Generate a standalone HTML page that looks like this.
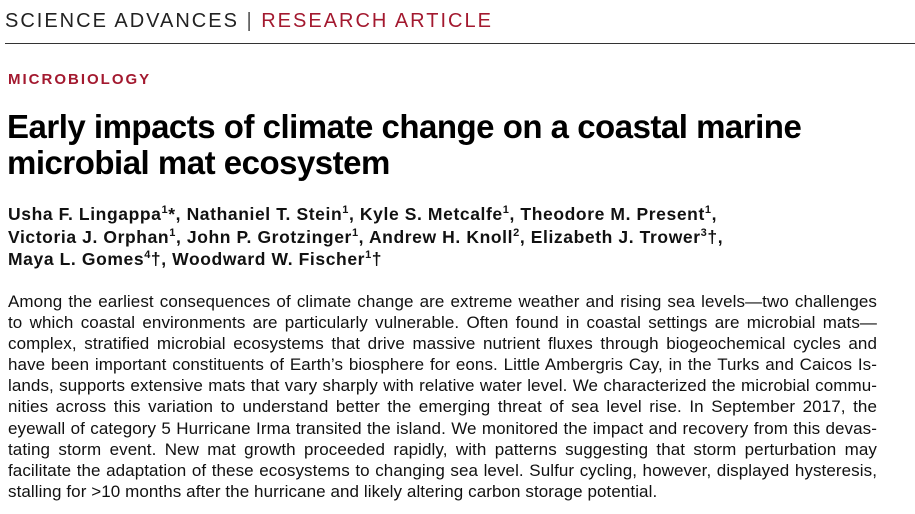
<!DOCTYPE html>
<html><head><meta charset="utf-8"><style>
body{margin:0;width:915px;height:514px;background:#fff;overflow:hidden;font-family:"Liberation Sans",sans-serif;color:#111;position:relative}
.a{position:absolute;white-space:nowrap}
.hd{top:10px;left:5px;font-size:20px;letter-spacing:2px;color:#222}
.red{color:#a3192f}
.rule{position:absolute;top:43px;left:5px;width:910px;height:1px;background:#333}
.cat{top:71px;left:8px;font-size:15px;font-weight:bold;letter-spacing:2px;color:#a3192f}
.ti{left:7px;font-size:33px;font-weight:bold;letter-spacing:-0.5px;color:#000}
.au{left:8px;font-size:17.5px;font-weight:bold;letter-spacing:0.6px;color:#111}
.au sup{font-size:11px;vertical-align:7px;line-height:0}
.ab{position:absolute;left:8px;width:869px;font-size:17px;letter-spacing:0.08px;line-height:21.1px;top:291px}
.ab div{text-align:justify;text-align-last:justify;white-space:nowrap;overflow:visible}
.ab div.l{text-align-last:left}
</style></head><body>
<div class="a hd">SCIENCE ADVANCES <span style="color:#555">|</span> <span class="red">RESEARCH ARTICLE</span></div>
<div class="rule"></div>
<div class="a cat">MICROBIOLOGY</div>
<div class="a ti" style="top:108px">Early impacts of climate change on a coastal marine</div>
<div class="a ti" style="top:144px">microbial mat ecosystem</div>
<div class="a au" style="top:204px">Usha F. Lingappa<sup>1</sup>*, Nathaniel T. Stein<sup>1</sup>, Kyle S. Metcalfe<sup>1</sup>, Theodore M. Present<sup>1</sup>,</div>
<div class="a au" style="top:227px">Victoria J. Orphan<sup>1</sup>, John P. Grotzinger<sup>1</sup>, Andrew H. Knoll<sup>2</sup>, Elizabeth J. Trower<sup>3</sup>†,</div>
<div class="a au" style="top:249px">Maya L. Gomes<sup>4</sup>†, Woodward W. Fischer<sup>1</sup>†</div>
<div class="ab">
<div>Among the earliest consequences of climate change are extreme weather and rising sea levels—two challenges</div>
<div>to which coastal environments are particularly vulnerable. Often found in coastal settings are microbial mats—</div>
<div>complex, stratified microbial ecosystems that drive massive nutrient fluxes through biogeochemical cycles and</div>
<div>have been important constituents of Earth’s biosphere for eons. Little Ambergris Cay, in the Turks and Caicos Is-</div>
<div>lands, supports extensive mats that vary sharply with relative water level. We characterized the microbial commu-</div>
<div>nities across this variation to understand better the emerging threat of sea level rise. In September 2017, the</div>
<div>eyewall of category 5 Hurricane Irma transited the island. We monitored the impact and recovery from this devas-</div>
<div>tating storm event. New mat growth proceeded rapidly, with patterns suggesting that storm perturbation may</div>
<div>facilitate the adaptation of these ecosystems to changing sea level. Sulfur cycling, however, displayed hysteresis,</div>
<div class="l">stalling for &gt;10 months after the hurricane and likely altering carbon storage potential.</div>
</div>
</body></html>
